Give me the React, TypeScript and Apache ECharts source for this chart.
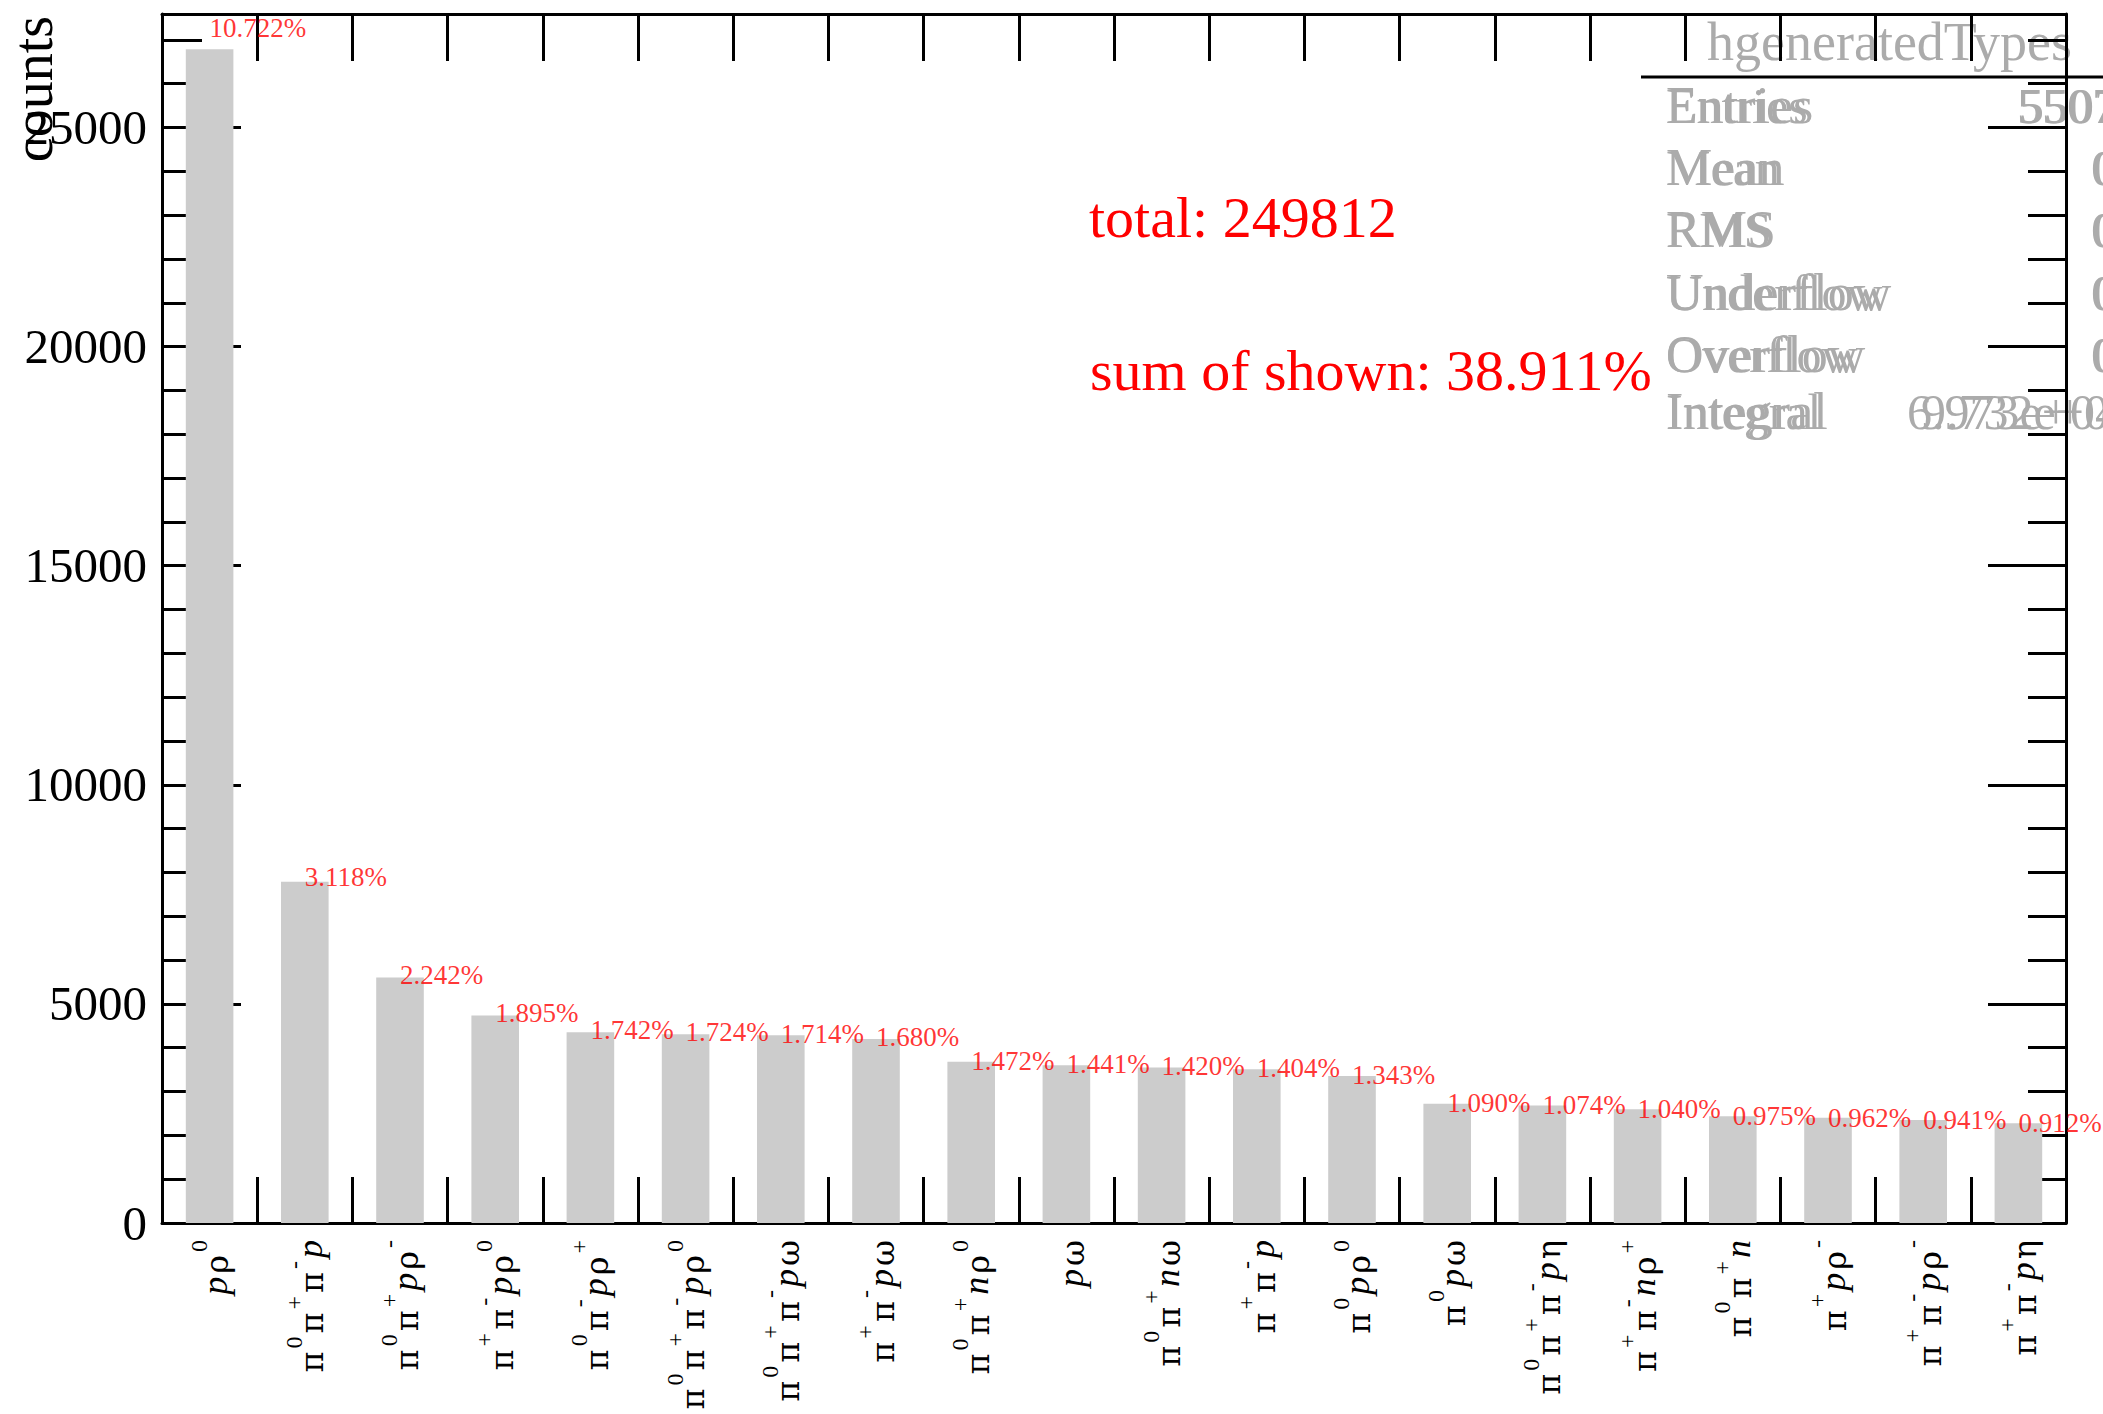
import { useEffect, useRef } from "react";
import * as echarts from "echarts";

// Total number of generated events and the twenty most frequent final states.
const TOTAL = 249812;

const channels = [
  "pρ⁰",
  "π⁰π⁺π⁻p",
  "π⁰π⁺pρ⁻",
  "π⁺π⁻pρ⁰",
  "π⁰π⁻pρ⁺",
  "π⁰π⁺π⁻pρ⁰",
  "π⁰π⁺π⁻pω",
  "π⁺π⁻pω",
  "π⁰π⁺nρ⁰",
  "pω",
  "π⁰π⁺nω",
  "π⁺π⁻p",
  "π⁰pρ⁰",
  "π⁰pω",
  "π⁰π⁺π⁻pη",
  "π⁺π⁻nρ⁺",
  "π⁰π⁺n",
  "π⁺pρ⁻",
  "π⁺π⁻pρ⁻",
  "π⁺π⁻pη",
];

const counts = [
  26785, 7789, 5601, 4734, 4352, 4307, 4282, 4197, 3677, 3600,
  3547, 3507, 3355, 2723, 2683, 2598, 2436, 2403, 2351, 2278,
];

const yTicks = [0, 5000, 10000, 15000, 20000, 25000];

const Y_MAX = 27590;
const Y_STEP = 5000;

const statNames = ["Entries", "Mean", "RMS", "Underflow", "Overflow", "Integral"];
const statValues = ["55073", "0", "0", "0", "0", "6.973e+04"];
const statValuesRedraw = ["55074", "0", "0", "0", "0", "9.732e+04"];

const SERIF = "'Liberation Serif', 'Times New Roman', Times, serif";
const GREEK = "'DejaVu Serif', 'Liberation Serif', serif";
const STAT_GREY = "#ababab";

const SUP: Record<string, string> = { "⁰": "0", "⁺": "+", "⁻": "-" };

// Turns a final-state name into rich text: italic nucleons, upright greek, raised charges.
function toRich(name: string): string {
  return Array.from(name)
    .map((ch) => {
      if (SUP[ch]) return `{s|${SUP[ch]}}`;
      if (/[a-z]/.test(ch)) return `{i|${ch}}`;
      return `{g|${ch}}`;
    })
    .join("");
}

function pctText(c: number): string {
  return ((c / TOTAL) * 100).toFixed(3) + "%";
}

const shownSum = counts.reduce((a, b) => a + b, 0);

// y of a text anchored by its vertical middle so that its baseline lands on `baseline`
function mid(baseline: number, size: number): number {
  return baseline - 0.3375 * size;
}

function greyText(text: string, x: number, baseline: number, size: number, dx = 0) {
  return {
    type: "text",
    x: x + dx,
    y: mid(baseline, size),
    z: -1,
    silent: true,
    style: {
      text,
      fontFamily: SERIF,
      fontSize: size,
      fill: STAT_GREY,
      align: "left",
      verticalAlign: "middle",
    },
  };
}

function buildOption() {
  const baselines = [123, 185, 247, 310, 372, 429];
  const statGraphics: any[] = [];
  statNames.forEach((n, k) => {
    statGraphics.push(greyText(n, 1666, baselines[k], 50));
    statGraphics.push(greyText(n, 1666, baselines[k], 52));
  });
  statValues.forEach((v, k) => {
    const x = k === 0 ? 2017 : k === 5 ? 1907 : 2091;
    statGraphics.push(greyText(v, x, baselines[k], 50));
    statGraphics.push(greyText(statValuesRedraw[k], x, baselines[k], 50, k === 5 ? 14 : 2));
  });

  const axisLineStyle = { color: "#000", width: 3 };
  const tickStyle = { color: "#000", width: 3 };

  return {
    animation: false,
    backgroundColor: "#ffffff",
    grid: { left: 162, right: 37, top: 14, bottom: 191, containLabel: false },
    xAxis: [
      {
        type: "category",
        data: channels,
        position: "bottom",
        boundaryGap: true,
        axisLine: { show: true, onZero: false, lineStyle: axisLineStyle },
        axisTick: { show: true, inside: true, length: 46, interval: 0, lineStyle: tickStyle },
        axisLabel: {
          show: true,
          interval: 0,
          rotate: 90,
          margin: 14,
          color: "#000",
          formatter: (v: string) => toRich(v),
          rich: {
            i: {
              fontFamily: SERIF,
              fontStyle: "italic",
              fontSize: 36,
              lineHeight: 46,
              verticalAlign: "bottom",
              padding: [0, 3, 0, 0],
              color: "#000",
            },
            g: {
              fontFamily: GREEK,
              fontSize: 32,
              lineHeight: 46,
              verticalAlign: "bottom",
              padding: [0, 3, 0, 0],
              color: "#000",
            },
            s: {
              fontFamily: SERIF,
              fontSize: 24,
              lineHeight: 24,
              verticalAlign: "top",
              padding: [0, 3, 0, 0],
              color: "#000",
            },
          },
        },
        splitLine: { show: false },
      },
      {
        type: "category",
        data: channels,
        position: "top",
        boundaryGap: true,
        axisLine: { show: true, onZero: false, lineStyle: axisLineStyle },
        axisTick: { show: true, inside: true, length: 47, interval: 0, lineStyle: tickStyle },
        axisLabel: { show: false },
        splitLine: { show: false },
      },
    ],
    yAxis: [
      {
        type: "value",
        position: "left",
        min: yTicks[0],
        max: Y_MAX,
        interval: Y_STEP,
        axisLine: { show: true, lineStyle: axisLineStyle },
        axisTick: { show: true, inside: true, length: 79, lineStyle: tickStyle },
        minorTick: { show: true, splitNumber: 5, length: 40, lineStyle: tickStyle },
        axisLabel: {
          show: true,
          margin: 15,
          fontSize: 49,
          fontFamily: SERIF,
          color: "#000",
          showMaxLabel: false,
          formatter: (v: number) => (yTicks.includes(v) ? String(v) : ""),
        },
        splitLine: { show: false },
        minorSplitLine: { show: false },
      },
      {
        type: "value",
        position: "right",
        min: yTicks[0],
        max: Y_MAX,
        interval: Y_STEP,
        axisLine: { show: true, lineStyle: axisLineStyle },
        axisTick: { show: true, inside: true, length: 78, lineStyle: tickStyle },
        minorTick: { show: true, splitNumber: 5, length: 38, lineStyle: tickStyle },
        axisLabel: { show: false },
        splitLine: { show: false },
        minorSplitLine: { show: false },
      },
    ],
    series: [
      {
        type: "bar",
        name: "hgeneratedTypes",
        xAxisIndex: 0,
        yAxisIndex: 0,
        data: counts,
        barWidth: "50%",
        itemStyle: { color: "#cccccc" },
        silent: true,
      },
      {
        // percentage tags, anchored slightly above each bar
        type: "scatter",
        xAxisIndex: 0,
        yAxisIndex: 0,
        data: counts.map((c, i) => [i, c * 1.02]),
        symbolSize: 0,
        silent: true,
        z: 5,
        label: {
          show: true,
          position: "right",
          distance: 0,
          offset: [0, 2],
          color: "#ff0000",
          fontFamily: SERIF,
          fontSize: 27,
          formatter: (p: any) => pctText(counts[p.dataIndex]),
        },
      },
    ],
    graphic: [
      {
        type: "text",
        x: 33,
        y: 16,
        rotation: Math.PI / 2,
        silent: true,
        style: {
          text: "counts",
          fontFamily: SERIF,
          fontSize: 56,
          fill: "#000",
          align: "right",
          verticalAlign: "middle",
        },
      },
      {
        type: "text",
        x: 1089,
        y: mid(237, 58),
        silent: true,
        style: {
          text: `total: ${TOTAL}`,
          fontFamily: SERIF,
          fontSize: 58,
          fill: "#ff0000",
          align: "left",
          verticalAlign: "middle",
        },
      },
      {
        type: "text",
        x: 1090,
        y: mid(390, 58),
        silent: true,
        style: {
          text: `sum of shown: ${pctText(shownSum)}`,
          fontFamily: SERIF,
          fontSize: 58,
          fill: "#ff0000",
          align: "left",
          verticalAlign: "middle",
        },
      },
      {
        type: "text",
        x: 1707,
        y: mid(60, 54),
        z: -1,
        silent: true,
        style: {
          text: "hgeneratedTypes",
          fontFamily: SERIF,
          fontSize: 54,
          fill: STAT_GREY,
          align: "left",
          verticalAlign: "middle",
        },
      },
      {
        type: "line",
        silent: true,
        shape: { x1: 1641, y1: 77, x2: 2103, y2: 77 },
        style: { stroke: "#000", lineWidth: 3 },
      },
      ...statGraphics,
    ],
  };
}

export default function App() {
  const ref = useRef<HTMLDivElement>(null);
  useEffect(() => {
    if (!ref.current) return;
    const chart = echarts.init(ref.current, null, { renderer: "svg" });
    chart.setOption(buildOption() as any);
    return () => chart.dispose();
  }, []);
  return (
    <div
      ref={ref}
      style={{ position: "fixed", left: 0, top: 0, width: 2103, height: 1414, background: "#fff" }}
    />
  );
}
